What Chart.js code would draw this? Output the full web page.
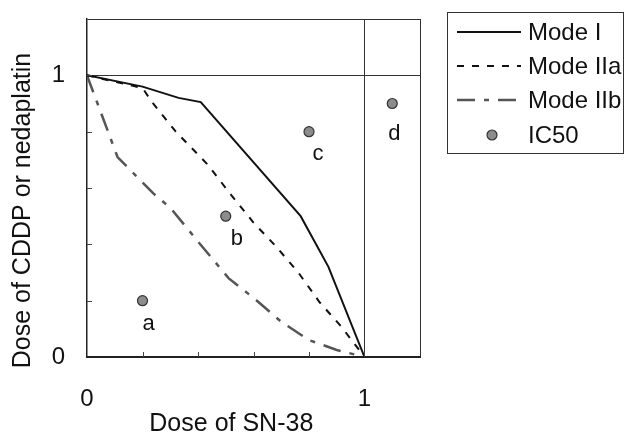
<!DOCTYPE html>
<html>
<head>
<meta charset="utf-8">
<script src="https://cdn.jsdelivr.net/npm/chart.js@4.4.1/dist/chart.umd.min.js"></script>
<style>
  html, body { margin: 0; padding: 0; background: #fff; }
</style>
</head>
<body>
<canvas id="isobologram" width="627" height="436"></canvas>
<script>
// Isobologram: relative doses of SN-38 (x) and CDDP / nedaplatin (y)
const modeIDose   = [0, 0.2, 0.33, 0.41, 0.77, 0.87, 1];
const modeIResp   = [1, 0.96, 0.92, 0.905, 0.5, 0.32, 0];

const modeIIaDose = [0, 0.2, 0.235, 0.32, 0.435, 0.51, 0.6, 0.675, 0.76, 0.837, 0.917, 1];
const modeIIaResp = [1, 0.955, 0.904, 0.8, 0.683, 0.587, 0.477, 0.399, 0.302, 0.196, 0.107, 0];

const modeIIbDose = [0, 0.11, 0.16, 0.24, 0.3, 0.4, 0.51, 0.6, 0.7, 0.8, 0.9, 1];
const modeIIbResp = [1, 0.71, 0.66, 0.58, 0.53, 0.41, 0.28, 0.21, 0.125, 0.06, 0.025, 0];

const ic50Dose    = [0.2, 0.5, 0.8, 1.1];
const ic50Resp    = [0.2, 0.5, 0.8, 0.9];
const ic50Names   = ['a', 'b', 'c', 'd'];

const tickLabels  = { 0: '0', 1: '1' };

const FONT = '"Liberation Sans", Arial, sans-serif';
Chart.defaults.font.family = FONT;
Chart.defaults.color = '#111';

const pts = (xs, ys) => xs.map((x, i) => ({ x: x, y: ys[i] }));
const near = (a, b) => Math.abs(a - b) < 1e-6;
const refLine = v => near(v, 1) || near(v, 1.2);
const tickText = v => {
  for (const k in tickLabels) if (near(v, +k)) return tickLabels[k];
  return '';
};

// short tick marks pointing into the plot
const innerTicks = {
  id: 'innerTicks',
  afterDraw(chart) {
    const { ctx, chartArea: a, scales } = chart;
    ctx.save();
    ctx.strokeStyle = '#444';
    ctx.lineWidth = 1;
    ctx.beginPath();
    scales.x.ticks.forEach(t => {
      if (t.value <= 0 || t.value >= 1) return;
      const px = Math.round(scales.x.getPixelForValue(t.value)) + 0.5;
      ctx.moveTo(px, a.bottom);
      ctx.lineTo(px, a.bottom - 5);
    });
    scales.y.ticks.forEach(t => {
      if (t.value <= 0 || t.value >= 1) return;
      const py = Math.round(scales.y.getPixelForValue(t.value)) + 0.5;
      ctx.moveTo(a.left, py);
      ctx.lineTo(a.left + 5, py);
    });
    ctx.stroke();
    ctx.restore();
  }
};

// axis titles, centred a bit off the middle of the 0..1 range
const axisTitles = {
  id: 'axisTitles',
  afterDraw(chart) {
    const { ctx, scales } = chart;
    ctx.save();
    ctx.fillStyle = '#111';
    ctx.font = '25px ' + FONT;
    ctx.textAlign = 'center';
    ctx.textBaseline = 'middle';
    ctx.fillText('Dose of SN-38', scales.x.getPixelForValue(0.52), 424);
    ctx.translate(23, scales.y.getPixelForValue(0.52));
    ctx.rotate(-Math.PI / 2);
    ctx.fillText('Dose of CDDP or nedaplatin', 0, 0);
    ctx.restore();
  }
};

// letters beside the IC50 points
const pointNames = {
  id: 'pointNames',
  afterDatasetsDraw(chart, args, opts) {
    const { ctx } = chart;
    const meta = chart.getDatasetMeta(3);
    ctx.save();
    ctx.fillStyle = '#111';
    ctx.font = '22px ' + FONT;
    ctx.textAlign = 'center';
    ctx.textBaseline = 'middle';
    meta.data.forEach((el, i) => {
      const off = opts.offsets[i];
      ctx.fillText(ic50Names[i], el.x + off[0], el.y + off[1]);
    });
    ctx.restore();
  }
};

// framed legend to the right of the plot
const boxLegend = {
  id: 'boxLegend',
  afterDraw(chart, args, o) {
    const { ctx } = chart;
    ctx.save();
    ctx.strokeStyle = '#333';
    ctx.lineWidth = 1;
    ctx.strokeRect(o.left + 0.5, o.top + 0.5, o.width, o.height);
    ctx.font = '24px ' + FONT;
    ctx.textBaseline = 'middle';
    ctx.textAlign = 'left';
    chart.data.datasets.forEach((ds, i) => {
      const y = o.rows[i];
      if (ds.showLine) {
        ctx.setLineDash(ds.borderDash || []);
        ctx.strokeStyle = ds.borderColor;
        ctx.lineWidth = ds.borderWidth;
        ctx.beginPath();
        ctx.moveTo(o.lineFrom, y);
        ctx.lineTo(o.lineTo, y);
        ctx.stroke();
        ctx.setLineDash([]);
      } else {
        ctx.beginPath();
        ctx.arc((o.lineFrom + o.lineTo) / 2 + 3, y, ds.pointRadius, 0, Math.PI * 2);
        ctx.fillStyle = ds.backgroundColor;
        ctx.fill();
        ctx.strokeStyle = ds.borderColor;
        ctx.lineWidth = ds.borderWidth;
        ctx.stroke();
      }
      ctx.fillStyle = '#111';
      ctx.fillText(ds.label, o.textX, y + 1);
    });
    ctx.restore();
  }
};

new Chart(document.getElementById('isobologram'), {
  type: 'scatter',
  data: {
    datasets: [
      {
        label: 'Mode I',
        data: pts(modeIDose, modeIResp),
        showLine: true,
        borderColor: '#111',
        borderWidth: 2,
        pointRadius: 0,
        tension: 0
      },
      {
        label: 'Mode IIa',
        data: pts(modeIIaDose, modeIIaResp),
        showLine: true,
        borderColor: '#111',
        borderWidth: 2,
        borderDash: [7, 8],
        pointRadius: 0,
        tension: 0
      },
      {
        label: 'Mode IIb',
        data: pts(modeIIbDose, modeIIbResp),
        showLine: true,
        borderColor: '#555',
        borderWidth: 2.5,
        borderDash: [18, 9, 5, 9],
        pointRadius: 0,
        tension: 0
      },
      {
        label: 'IC50',
        data: pts(ic50Dose, ic50Resp),
        showLine: false,
        backgroundColor: '#8c8c8c',
        borderColor: '#333',
        borderWidth: 1.2,
        pointRadius: 5,
        pointHoverRadius: 5
      }
    ]
  },
  options: {
    responsive: false,
    animation: false,
    devicePixelRatio: 1,
    layout: { padding: { top: 19, right: 207, left: 0, bottom: 0 } },
    scales: {
      x: {
        type: 'linear',
        min: 0,
        max: 1.2,
        border: { color: '#222', width: 2 },
        grid: {
          drawTicks: false,
          lineWidth: 1,
          color: c => refLine(c.tick.value) ? '#333' : 'rgba(0,0,0,0)'
        },
        ticks: {
          stepSize: 0.2,
          autoSkip: false,
          maxRotation: 0,
          padding: 28,
          font: { size: 24 },
          callback: v => tickText(v)
        },
        afterFit: s => {
          s.height = 79;
          s.paddingLeft = 0;
          s.paddingRight = 0;
        }
      },
      y: {
        type: 'linear',
        min: 0,
        max: 1.2,
        border: { color: '#222', width: 1.5 },
        grid: {
          drawTicks: false,
          lineWidth: 1,
          color: c => refLine(c.tick.value) ? '#333' : 'rgba(0,0,0,0)'
        },
        ticks: {
          stepSize: 0.2,
          autoSkip: false,
          padding: 22,
          font: { size: 24 },
          callback: v => tickText(v)
        },
        afterFit: s => {
          s.width = 87;
          s.paddingTop = 0;
          s.paddingBottom = 0;
        }
      }
    },
    plugins: {
      legend: { display: false },
      tooltip: { enabled: false },
      pointNames: { offsets: [[6, 23], [11, 23], [9, 22], [2, 30]] },
      boxLegend: {
        left: 447, top: 12, width: 176, height: 141,
        rows: [32, 66, 100, 135],
        lineFrom: 457, lineTo: 521, textX: 528
      }
    }
  },
  plugins: [innerTicks, axisTitles, pointNames, boxLegend]
});
</script>
</body>
</html>
